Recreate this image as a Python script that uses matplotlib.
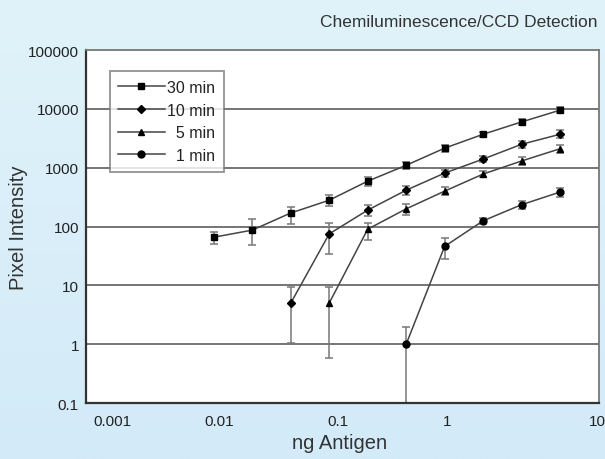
import numpy as np
import matplotlib

matplotlib.use("Agg")
import matplotlib.pyplot as plt

plt.rcParams["font.family"] = ["Liberation Sans", "DejaVu Sans"]

# serial dilution of antigen (ng)
x_all = [0.0098, 0.0195, 0.039, 0.078, 0.156, 0.3125, 0.625, 1.25, 2.5, 5.0]

y30 = [66, 87, 170, 280, 590, 1100, 2150, 3700, 6000, 9500]
lo30 = [50, 48, 110, 220, 480, 950, 1850, 3300, 5300, 8500]
hi30 = [81, 133, 215, 350, 700, 1250, 2450, 4100, 6700, 10600]

y10 = [5, 75, 190, 415, 810, 1400, 2500, 3700]
lo10 = [1.04, 34, 150, 350, 700, 1250, 2200, 3200]
hi10 = [9.3, 115, 230, 490, 930, 1600, 2850, 4300]

y5 = [5, 90, 200, 400, 780, 1300, 2100]
lo5 = [0.58, 60, 160, 340, 690, 1100, 1800]
hi5 = [9.3, 115, 240, 470, 880, 1550, 2450]

y1 = [1, 46, 125, 235, 385]
lo1 = [0.1, 28, 110, 200, 320]
hi1 = [1.95, 63, 140, 270, 460]

series = [
    ("30 min", "s", y30, lo30, hi30),
    ("10 min", "D", y10, lo10, hi10),
    ("\u20075 min", "^", y5, lo5, hi5),
    ("\u20071 min", "o", y1, lo1, hi1),
]

xtick_labels = ["0.001", "0.01", "0.1", "1", "10"]
xtick_pos = [0.00157, 0.0107, 0.0907, 0.653, 9.8]
ytick_vals = [0.1, 1, 10, 100, 1000, 10000, 100000]
ytick_labels = ["0.1", "1", "10", "100", "1000", "10000", "100000"]

fig = plt.figure(figsize=(6.05, 4.6), dpi=100)

# light blue gradient background
bg = fig.add_axes([0, 0, 1, 1], zorder=-10)
grad = np.linspace(0, 1, 256).reshape(-1, 1)
top_c = np.array([0xE0, 0xF3, 0xFA]) / 255
bot_c = np.array([0xD3, 0xEA, 0xF8]) / 255
img = top_c[None, None, :] * (1 - grad[:, :, None]) + bot_c[None, None, :] * grad[:, :, None]
bg.imshow(img, aspect="auto", extent=[0, 1, 0, 1])
bg.axis("off")

ax = fig.add_axes([0.142, 0.1217, 0.848, 0.7673])
ax.set_facecolor("white")
ax.set_xscale("log")
ax.set_yscale("log")
ax.set_xlim(0.00097, 10.1)
ax.set_ylim(0.1, 100000)

for yv in ytick_vals[1:-1]:
    ax.axhline(yv, color="#6a6a6a", lw=1.3, zorder=1)

for label, marker, y, lo, hi in series:
    n = len(y)
    xs = x_all[-n:]
    yerr = [np.array(y) - np.array(lo), np.array(hi) - np.array(y)]
    ax.errorbar(xs, y, yerr=yerr, fmt="none", ecolor="#777777", elinewidth=1.1,
                capsize=3, capthick=1.1, zorder=2)
    ax.plot(xs, y, color="#444444", lw=1.1, marker=marker,
            markersize={"s": 5, "D": 4.3, "^": 5, "o": 5}[marker],
            markerfacecolor="black", markeredgecolor="black", label=label, zorder=3)

ax.minorticks_off()
ax.set_xticks(xtick_pos, xtick_labels)
ax.set_yticks(ytick_vals, ytick_labels)
ax.tick_params(axis="both", length=0, labelsize=11, colors="#222222")
ax.tick_params(axis="x", pad=8)
ax.tick_params(axis="y", pad=5)

for side in ["top", "right"]:
    ax.spines[side].set_color("#777777")
    ax.spines[side].set_linewidth(1.3)
for side in ["left", "bottom"]:
    ax.spines[side].set_color("#333333")
    ax.spines[side].set_linewidth(1.6)

leg = ax.legend(loc="upper left", bbox_to_anchor=(0.046, 0.94), frameon=True, fancybox=False,
                fontsize=11.5, handlelength=2.9, handletextpad=0.15, labelspacing=0.48,
                borderpad=0.55, borderaxespad=0)
leg.get_frame().set_edgecolor("#777777")
leg.get_frame().set_linewidth(1.3)
for t in leg.get_texts():
    t.set_color("#222222")

fig.text(0.988, 0.952, "Chemiluminescence/CCD Detection", ha="right", va="center",
         fontsize=12.5, color="#333333")
fig.text(0.03, 0.505, "Pixel Intensity", rotation=90, ha="center", va="center",
         fontsize=14.5, color="#333333")
fig.text(0.562, 0.035, "ng Antigen", ha="center", va="center", fontsize=14.5, color="#333333")

fig.savefig("out.png", dpi=100)
